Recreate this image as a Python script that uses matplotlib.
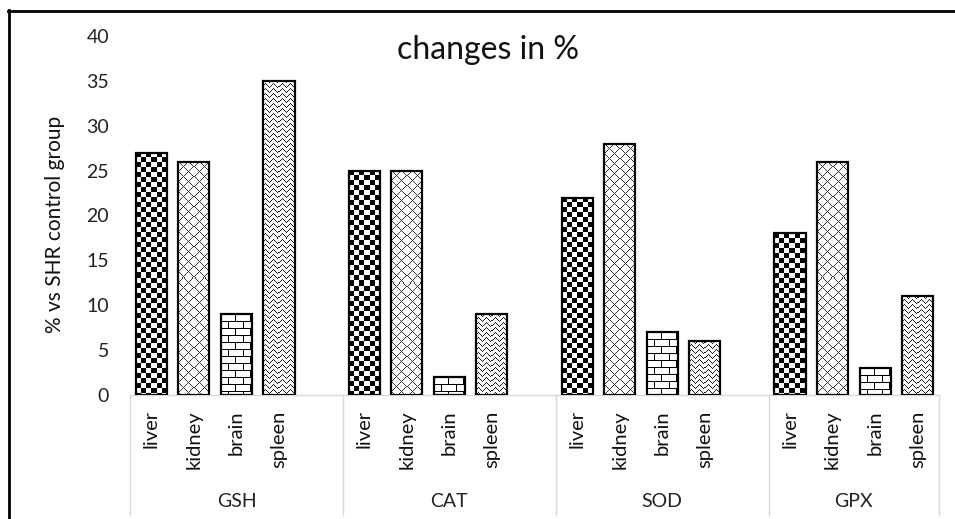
import numpy as np
import matplotlib
matplotlib.use("Agg")
import matplotlib.pyplot as plt
from matplotlib.lines import Line2D
import matplotlib.transforms as mtransforms

plt.rcParams['font.family'] = ['Lato', 'DejaVu Sans']

groups = ['GSH', 'CAT', 'SOD', 'GPX']
organs = ['liver', 'kidney', 'brain', 'spleen']
gsh = [27, 26, 9, 35]
cat = [25, 25, 2, 9]
sod = [22, 28, 7, 6]
gpx = [18, 26, 3, 11]
values = [gsh, cat, sod, gpx]


def texture(kind, h, w):
    # fill pattern in screen pixels, 0 = black, 1 = white
    r, c = np.mgrid[0:h, 0:w]
    img = np.ones((h, w))
    if kind == 'liver':
        img[((r // 5 + c // 5) % 2) == 0] = 0.0
    elif kind == 'kidney':
        img[((r + c) % 10 == 0) | ((r - c) % 10 == 0)] = 0.2
    elif kind == 'brain':
        img[(r % 7) == 0] = 0.0
        img[((c + 7 * ((r // 7) % 2)) % 14) == 0] = 0.0
    else:
        off = np.round(1.5 * np.sin(2 * np.pi * c / 8)).astype(int)
        img[((r + off) % 5) == 0] = 0.1
    return img


fig = plt.figure(figsize=(9.55, 5.19), dpi=100)
ax = fig.add_axes([130 / 955, 1 - 395 / 519, 809 / 955, 359 / 519])
ax.set_xlim(-0.5, 18.5)
ax.set_ylim(0, 40)

width = 0.73
positions = []
for g, vals in enumerate(values):
    for i, v in enumerate(vals):
        x = g * 5 + i
        positions.append(x)
        bar = ax.bar(x, v, width=width, facecolor='none', edgecolor='black',
                     linewidth=1.6, zorder=3)[0]
        p0 = ax.transData.transform((x - width / 2, 0))
        p1 = ax.transData.transform((x + width / 2, v))
        hp = max(int(round(p1[1] - p0[1])), 1)
        wp = max(int(round(p1[0] - p0[0])), 1)
        im = ax.imshow(texture(organs[i], hp, wp), cmap='gray', vmin=0, vmax=1,
                       extent=(x - width / 2, x + width / 2, 0, v),
                       interpolation='nearest', aspect='auto', zorder=2)
        im.set_clip_path(bar)

ax.set_xlim(-0.5, 18.5)
ax.set_ylim(0, 40)
ax.set_aspect('auto')

for s in ['top', 'right', 'left']:
    ax.spines[s].set_visible(False)
ax.spines['bottom'].set_color('#d9d9d9')
ax.spines['bottom'].set_linewidth(1)

ax.set_yticks(range(0, 41, 5))
ax.tick_params(axis='y', length=0, pad=15, labelsize=14, labelcolor='#222222')
ax.set_xticks(positions, organs * 4, rotation=90)
ax.tick_params(axis='x', length=0, pad=11, labelsize=14.5, labelcolor='#111111')

trans = mtransforms.blended_transform_factory(ax.transData, ax.transAxes)
for sep in [-0.5, 4.5, 9.5, 14.5, 18.5]:
    ax.add_line(Line2D([sep, sep], [0, -0.334], transform=trans, color='#d9d9d9',
                       linewidth=1, clip_on=False))
for g, name in enumerate(groups):
    center = (g * 5 - 0.5 + min(g * 5 + 4.5, 18.5)) / 2
    ax.text(center, -0.297, name, transform=trans, ha='center', va='center',
            fontsize=14, color='#222222')

fig.text(487.5 / 955, 1 - 50 / 519, 'changes in %', ha='center', va='center',
         fontsize=23, color='#111111')
fig.text(55 / 955, 1 - 224 / 519, '% vs SHR control group', rotation=90,
         ha='center', va='center', fontsize=15, color='#111111')

fig.add_artist(Line2D([9 / 955, 9 / 955], [0, 1 - 10 / 519], color='black',
                      linewidth=2))
fig.add_artist(Line2D([8 / 955, 1], [1 - 11 / 519, 1 - 11 / 519], color='black',
                      linewidth=2))

fig.savefig('out.png', dpi=100)
